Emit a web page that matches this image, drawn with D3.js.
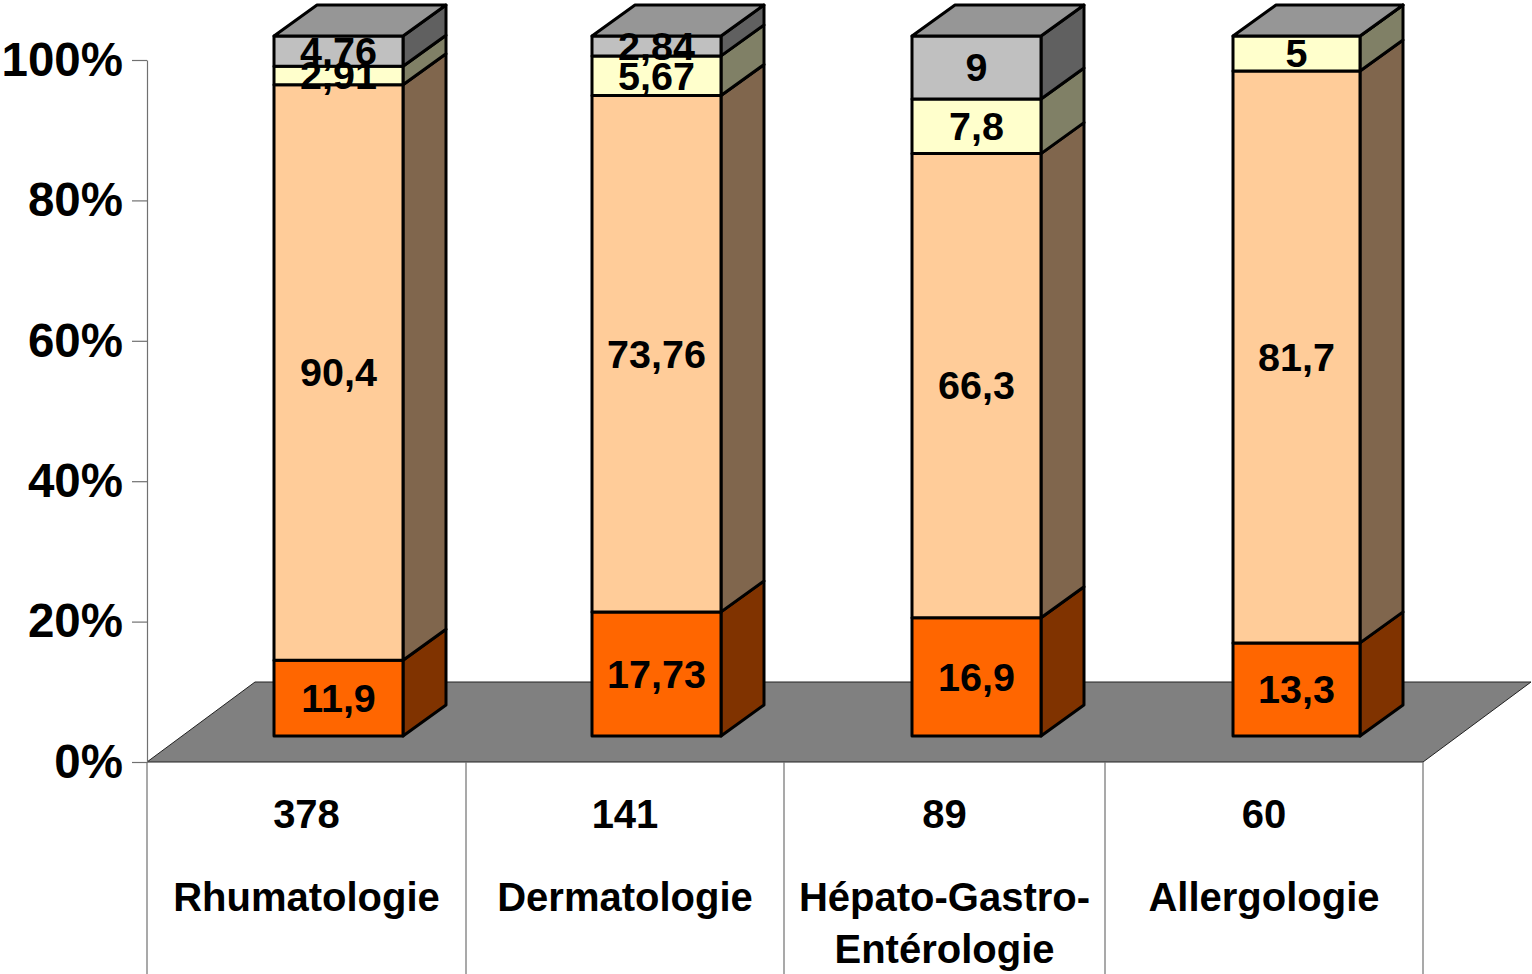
<!DOCTYPE html>
<html>
<head>
<meta charset="utf-8">
<script src="https://cdn.jsdelivr.net/npm/d3@7"></script>
<style>
    html, body { margin: 0; padding: 0; background: #fff; }
    svg { display: block; }
    text { font-family: "Liberation Sans", Arial, sans-serif; font-weight: bold; fill: #000; }
    .axis-y text { font-size: 47.5px; }
    .axis-y line, .axis-y path, .wall { stroke: #707070; stroke-width: 1.2; fill: none; }
    .segment { stroke: #000; stroke-width: 3; stroke-linejoin: round; }
    .value { font-size: 39.5px; text-anchor: middle; }
    .cat { font-size: 40px; text-anchor: middle; }
</style>
</head>
<body>
<svg id="chart" width="1532" height="974"></svg>
<script>
var categories = ["Rhumatologie", "Dermatologie", "Hépato-Gastro-", "Allergologie"]
  , categoryExtra = ["", "", "Entérologie", ""]
  , counts = [378, 141, 89, 60]
  , seriesOrange = [11.9, 17.73, 16.9, 13.3]
  , seriesPeach = [90.4, 73.76, 66.3, 81.7]
  , seriesYellow = [2.91, 5.67, 7.8, 5]
  , seriesGray = [4.76, 2.84, 9, 0]
  , yTicks = [0, 0.2, 0.4, 0.6, 0.8, 1]
;
var seriesKeys = ["orange", "peach", "yellow", "gray"]
  , faceColor = { orange: "#ff6600", peach: "#ffcc99", yellow: "#ffffcc", gray: "#c0c0c0" }
  , sideColor = { orange: "#803300", peach: "#80664d", yellow: "#808066", gray: "#606060" }
  , topColor = "#969696"
;
var rows = categories.map(function (d, i) {
    return { key: d, orange: seriesOrange[i], peach: seriesPeach[i], yellow: seriesYellow[i], gray: seriesGray[i] };
});

/*
** Layout - the plot box, and the depth of the floor and of the bars
*/
var plot = { left: 147, right: 1423, bottom: 762, top: 60, end: 974 }
  , floor = { dx: 108, dy: -80 }
  , depth = { dx: 43, dy: -31 }
;
var svg = d3.select("#chart");

// the columns of the original are not quite evenly spaced, so ordinal scales and not a band
var colLeft = d3.scaleOrdinal().domain(categories).range([plot.left, 466, 784, 1105]);
var colRight = d3.scaleOrdinal().domain(categories).range([466, 784, 1105, plot.right]);
var barLeft = d3.scaleOrdinal().domain(categories).range([274, 592, 912, 1233]);
var barRight = d3.scaleOrdinal().domain(categories).range([403, 721, 1041, 1360]);

var yAxisScale = d3.scaleLinear().domain([0, 1]).range([plot.bottom, plot.top]);
// the bars stand further back on the floor, so they get their own scale
var yBar = d3.scaleLinear().domain([0, 1]).range([736, 36]);

var stack = d3.stack().keys(seriesKeys).offset(d3.stackOffsetExpand);
var stacked = stack(rows);

// Floor
function polygon(points) {
    return points.map(function (p) { return p.join(","); }).join(" ");
}
svg.append("polygon")
    .attr("points", polygon([
          [plot.left, plot.bottom]
        , [plot.left + floor.dx, plot.bottom + floor.dy]
        , [plot.right + floor.dx, plot.bottom + floor.dy]
        , [plot.right, plot.bottom]
      ]))
    .attr("fill", "#808080")
    .attr("stroke", "#222")
    .attr("stroke-width", 1)
;

// Y axis
svg.append("g")
    .attr("class", "axis-y")
    .attr("transform", "translate(" + plot.left + ",0)")
    .call(d3.axisLeft(yAxisScale)
        .tickValues(yTicks)
        .tickFormat(d3.format(".0%"))
        .tickSize(15)
        .tickSizeOuter(0)
        .tickPadding(9))
;

// Category separators, the axis line carries on down to the edge
svg.selectAll("line.wall")
    .data(categories.map(function (d) { return colLeft(d); }).concat([plot.right]))
  .enter().append("line")
    .attr("class", "wall")
    .attr("x1", function (d) { return d; })
    .attr("x2", function (d) { return d; })
    .attr("y1", plot.bottom)
    .attr("y2", plot.end)
;

// Bars
var bars = svg.selectAll("g.bar")
    .data(categories)
  .enter().append("g")
    .attr("class", "bar")
;
stacked.forEach(function (layer) {
    bars.each(function (d, i) {
        var y0 = yBar(layer[i][0])
          , y1 = yBar(layer[i][1])
          , g = d3.select(this)
        ;
        g.append("polygon")
            .attr("class", "segment")
            .attr("fill", sideColor[layer.key])
            .attr("points", polygon([
                  [barRight(d), y0]
                , [barRight(d) + depth.dx, y0 + depth.dy]
                , [barRight(d) + depth.dx, y1 + depth.dy]
                , [barRight(d), y1]
              ]))
        ;
        g.append("rect")
            .attr("class", "segment")
            .attr("fill", faceColor[layer.key])
            .attr("x", barLeft(d))
            .attr("y", y1)
            .attr("width", barRight(d) - barLeft(d))
            .attr("height", y0 - y1)
        ;
    });
});
bars.append("polygon")
    .attr("class", "segment")
    .attr("fill", topColor)
    .attr("points", function (d) {
        return polygon([
              [barLeft(d), yBar(1)]
            , [barLeft(d) + depth.dx, yBar(1) + depth.dy]
            , [barRight(d) + depth.dx, yBar(1) + depth.dy]
            , [barRight(d), yBar(1)]
          ]);
      })
;

// Value labels go last, they overlap on the thin segments
stacked.forEach(function (layer) {
    bars.each(function (d, i) {
        var value = rows[i][layer.key];
        if(!value) return;
        d3.select(this).append("text")
            .attr("class", "value")
            .attr("x", (barLeft(d) + barRight(d)) / 2)
            .attr("y", (yBar(layer[i][0]) + yBar(layer[i][1])) / 2)
            .attr("dy", "0.35em")
            .text(String(value).replace(".", ","))
        ;
    });
});

// Data table under the axis
var cats = svg.selectAll("g.cat-col")
    .data(categories)
  .enter().append("g")
    .attr("class", "cat-col")
    .attr("transform", function (d) { return "translate(" + (colLeft(d) + colRight(d)) / 2 + ",0)"; })
;
cats.append("text").attr("class", "cat").attr("y", 828)
    .text(function (d, i) { return counts[i]; });
cats.append("text").attr("class", "cat").attr("y", 911)
    .text(function (d) { return d; });
cats.append("text").attr("class", "cat").attr("y", 963)
    .text(function (d, i) { return categoryExtra[i]; });
</script>
</body>
</html>
